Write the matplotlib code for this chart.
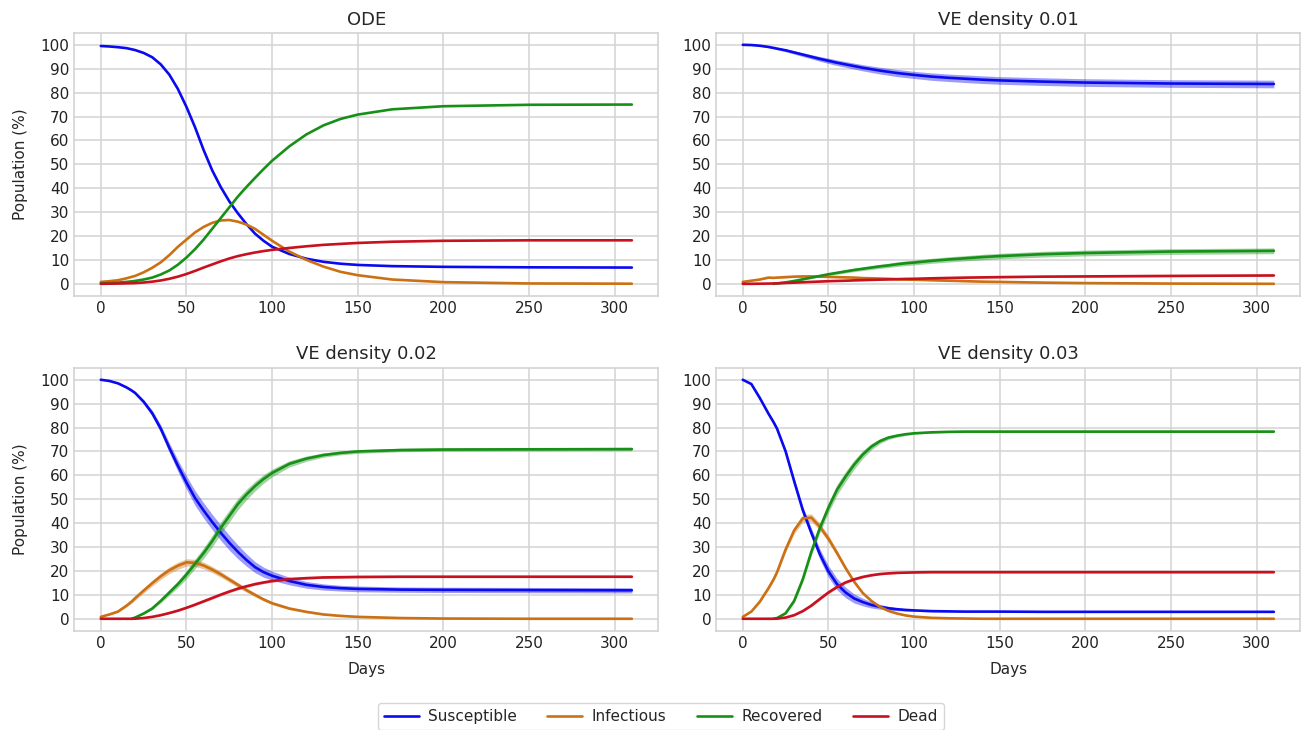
import matplotlib
matplotlib.use('Agg')
from matplotlib import pyplot as plt
import numpy as np

plt.style.use('seaborn-v0_8-whitegrid')
plt.rcParams['font.family'] = ['DejaVu Sans']

nan = np.nan

# ---- data (population %) ----
labels = ['Susceptible', 'Infectious', 'Recovered', 'Dead']
colors = ['#0a0af0', '#cc7014', '#169016', '#c8101e']

# ODE solution
days_ode = [0, 5, 10, 15, 20, 25, 30, 35, 40, 45, 50, 55, 60, 65, 70, 75, 80, 85, 90,
            95, 100, 110, 120, 130, 140, 150, 170, 200, 250, 310]
ode_s = [99.5, 99.3, 99.0, 98.6, 97.8, 96.6, 94.8, 91.8, 87.5, 81.5, 74.0, 65.5, 56.0,
         47.5, 40.5, 34.5, 29.5, 25.0, 21.0, 18.0, 15.5, 12.5, 10.5, 9.2, 8.4, 7.9,
         7.4, 7.1, 6.9, 6.8]
ode_i = [0.8, 1.1, 1.5, 2.3, 3.3, 4.8, 6.7, 9.0, 12.0, 15.5, 18.5, 21.5, 23.8, 25.5,
         26.5, 26.7, 26.0, 24.8, 23.0, 20.5, 18.0, 13.5, 10.0, 7.2, 5.0, 3.6, 1.8,
         0.7, 0.15, 0.05]
ode_r = [0.2, 0.3, 0.5, 0.8, 1.2, 1.8, 2.6, 3.9, 5.6, 8.0, 11.0, 14.5, 18.5, 23.0,
         27.5, 32.0, 36.5, 40.5, 44.3, 48.0, 51.5, 57.5, 62.5, 66.3, 69.0, 70.8, 73.0,
         74.3, 74.9, 75.0]
ode_d = [0.0, 0.05, 0.1, 0.2, 0.3, 0.55, 0.9, 1.4, 2.1, 3.0, 4.1, 5.4, 6.8, 8.1, 9.4,
         10.6, 11.6, 12.4, 13.1, 13.7, 14.2, 15.0, 15.7, 16.3, 16.7, 17.1, 17.6, 18.0,
         18.2, 18.2]

# simulations (mean and spread)
days_ve = [0, 5, 10, 15, 18, 20, 25, 30, 35, 40, 45, 50, 55, 60, 65, 70, 75, 80, 85,
           90, 95, 100, 110, 120, 130, 140, 150, 175, 200, 250, 310]

# VE density 0.01
ve1_s = [100, 99.9, 99.6, 99.1, 98.7, 98.4, 97.7, 96.8, 95.9, 95.0, 94.1, 93.3, 92.5,
         91.8, 91.1, 90.4, 89.8, 89.2, 88.7, 88.2, 87.8, 87.4, 86.7, 86.2, 85.8, 85.4,
         85.1, 84.6, 84.2, 83.8, 83.6]
ve1_i = [0.8, 1.3, 1.8, 2.6, 2.5, 2.6, 2.8, 3.0, 3.1, 3.1, 3.0, 2.9, 2.8, 2.7, 2.6,
         2.4, 2.3, 2.2, 2.1, 1.9, 1.8, 1.7, 1.5, 1.3, 1.1, 0.9, 0.8, 0.5, 0.3, 0.1, 0.0]
ve1_r = [nan, nan, nan, nan, 0.0, 0.15, 0.6, 1.2, 1.9, 2.6, 3.3, 4.0, 4.6, 5.2, 5.8,
         6.3, 6.8, 7.3, 7.7, 8.2, 8.6, 8.9, 9.6, 10.2, 10.7, 11.2, 11.6, 12.4, 12.9,
         13.5, 13.8]
ve1_d = [0, 0, 0.05, 0.1, 0.15, 0.2, 0.35, 0.5, 0.65, 0.8, 0.95, 1.1, 1.2, 1.3, 1.45,
         1.55, 1.65, 1.75, 1.85, 1.95, 2.05, 2.1, 2.3, 2.45, 2.6, 2.7, 2.8, 3.0, 3.1,
         3.3, 3.5]
ve1_s_sd = [0, 0.1, 0.2, 0.3, 0.4, 0.45, 0.6, 0.7, 0.8, 0.9, 1.0, 1.1, 1.15, 1.2,
            1.25, 1.3, 1.35, 1.4, 1.45, 1.5, 1.5, 1.5, 1.55, 1.55, 1.6, 1.6, 1.6, 1.6,
            1.6, 1.6, 1.6]
ve1_i_sd = [0, 0.1, 0.15, 0.2, 0.25, 0.25, 0.3, 0.3, 0.3, 0.3, 0.3, 0.3, 0.3, 0.3,
            0.3, 0.3, 0.3, 0.3, 0.25, 0.25, 0.25, 0.25, 0.2, 0.2, 0.2, 0.15, 0.15,
            0.1, 0.1, 0.05, 0.0]
ve1_r_sd = [0, 0, 0, 0, 0, 0.05, 0.15, 0.2, 0.3, 0.4, 0.45, 0.5, 0.6, 0.65, 0.7,
            0.75, 0.8, 0.85, 0.9, 0.95, 1.0, 1.0, 1.05, 1.1, 1.1, 1.15, 1.15, 1.2,
            1.2, 1.2, 1.2]
ve1_d_sd = [0, 0, 0.02, 0.05, 0.05, 0.05, 0.08, 0.1, 0.12, 0.15, 0.15, 0.18, 0.2,
            0.2, 0.2, 0.22, 0.22, 0.25, 0.25, 0.25, 0.25, 0.25, 0.28, 0.28, 0.3, 0.3,
            0.3, 0.3, 0.3, 0.3, 0.3]

# VE density 0.02
ve2_s = [100, 99.5, 98.5, 96.8, 95.5, 94.5, 90.8, 86.0, 79.5, 71.5, 64.0, 57.0, 50.5,
         45.3, 40.5, 36.0, 31.8, 28.0, 24.6, 21.6, 19.5, 18.0, 15.8, 14.2, 13.3, 12.8,
         12.5, 12.2, 12.1, 12.0, 11.9]
ve2_i = [0.8, 1.8, 3.0, 5.5, 7.2, 8.6, 11.8, 14.9, 17.8, 20.3, 22.2, 23.6, 23.4, 22.3,
         20.6, 18.6, 16.4, 14.2, 12.0, 10.0, 8.1, 6.5, 4.3, 2.9, 1.8, 1.2, 0.8, 0.3,
         0.1, 0.0, 0.0]
ve2_r = [nan, nan, nan, nan, 0.0, 0.5, 2.2, 4.3, 7.5, 11.0, 14.5, 18.5, 23.0, 27.5,
         32.5, 38.0, 43.0, 48.0, 52.0, 55.5, 58.5, 61.0, 64.8, 67.0, 68.5, 69.4, 70.0,
         70.6, 70.8, 70.9, 71.0]
ve2_d = [0, 0, 0, 0, 0, 0.05, 0.3, 0.8, 1.5, 2.4, 3.4, 4.6, 5.9, 7.3, 8.7, 10.1, 11.4,
         12.6, 13.6, 14.5, 15.2, 15.8, 16.6, 17.0, 17.3, 17.4, 17.5, 17.6, 17.6, 17.6,
         17.6]
ve2_s_sd = [0, 0.1, 0.2, 0.3, 0.4, 0.5, 0.8, 1.2, 1.6, 2.0, 2.4, 2.8, 3.1, 3.2, 3.2,
            3.2, 3.1, 2.9, 2.6, 2.3, 2.1, 1.9, 1.6, 1.4, 1.3, 1.2, 1.2, 1.1, 1.1, 1.1,
            1.1]
ve2_i_sd = [0, 0.2, 0.4, 0.6, 0.7, 0.8, 1.0, 1.2, 1.3, 1.4, 1.5, 1.5, 1.5, 1.4, 1.3,
            1.2, 1.1, 1.0, 0.9, 0.8, 0.7, 0.6, 0.5, 0.4, 0.3, 0.2, 0.2, 0.1, 0.1, 0.0,
            0.0]
ve2_r_sd = [0, 0, 0, 0, 0, 0.1, 0.3, 0.5, 0.8, 1.1, 1.4, 1.7, 2.0, 2.2, 2.4, 2.5, 2.5,
            2.4, 2.2, 2.0, 1.8, 1.6, 1.3, 1.1, 0.9, 0.8, 0.8, 0.7, 0.7, 0.7, 0.7]
ve2_d_sd = [0, 0, 0, 0, 0, 0.02, 0.1, 0.15, 0.2, 0.25, 0.3, 0.35, 0.4, 0.45, 0.5, 0.5,
            0.5, 0.5, 0.5, 0.5, 0.5, 0.5, 0.45, 0.45, 0.4, 0.4, 0.4, 0.4, 0.4, 0.4, 0.4]

# VE density 0.03
ve3_s = [100, 98.2, 92.3, 85.8, 82.2, 79.5, 70.0, 57.5, 45.5, 36.0, 27.0, 19.8, 14.5,
         11.0, 8.5, 7.0, 5.8, 5.0, 4.4, 4.0, 3.7, 3.5, 3.2, 3.1, 3.0, 3.0, 3.0, 2.9,
         2.9, 2.9, 2.9]
ve3_i = [0.8, 3.0, 7.2, 12.8, 16.5, 19.5, 29.0, 37.0, 42.0, 42.3, 38.5, 33.5, 27.5,
         21.2, 15.5, 10.8, 7.5, 5.0, 3.3, 2.2, 1.4, 0.9, 0.4, 0.2, 0.1, 0.0, 0.0, 0.0,
         0.0, 0.0, 0.0]
ve3_r = [nan, nan, nan, nan, 0.0, 0.3, 2.3, 7.5, 16.5, 28.0, 38.0, 46.5, 54.0, 59.5,
         64.5, 68.7, 72.0, 74.3, 75.8, 76.6, 77.2, 77.6, 78.0, 78.2, 78.3, 78.3, 78.3,
         78.3, 78.3, 78.3, 78.3]
ve3_d = [0, 0, 0, 0, 0, 0.05, 0.5, 1.5, 3.2, 5.5, 8.3, 11.0, 13.3, 15.2, 16.5, 17.5,
         18.2, 18.7, 19.0, 19.2, 19.3, 19.4, 19.5, 19.5, 19.5, 19.5, 19.5, 19.5, 19.5,
         19.5, 19.5]
ve3_s_sd = [0, 0.2, 0.4, 0.6, 0.7, 0.8, 1.0, 1.3, 1.6, 1.9, 2.2, 2.4, 2.4, 2.2, 1.9,
            1.6, 1.3, 1.0, 0.8, 0.6, 0.5, 0.4, 0.3, 0.3, 0.3, 0.3, 0.3, 0.3, 0.3, 0.3,
            0.3]
ve3_i_sd = [0, 0.2, 0.4, 0.6, 0.7, 0.8, 1.1, 1.4, 1.6, 1.6, 1.5, 1.4, 1.2, 1.0, 0.8,
            0.6, 0.5, 0.4, 0.3, 0.2, 0.2, 0.1, 0.1, 0.0, 0.0, 0.0, 0.0, 0.0, 0.0, 0.0,
            0.0]
ve3_r_sd = [0, 0, 0, 0, 0, 0.1, 0.4, 0.8, 1.2, 1.6, 1.9, 2.1, 2.2, 2.1, 1.9, 1.6, 1.3,
            1.0, 0.8, 0.6, 0.5, 0.4, 0.3, 0.3, 0.3, 0.3, 0.3, 0.3, 0.3, 0.3, 0.3]
ve3_d_sd = [0, 0, 0, 0, 0, 0.02, 0.1, 0.2, 0.3, 0.4, 0.5, 0.5, 0.5, 0.5, 0.45, 0.4,
            0.35, 0.3, 0.3, 0.3, 0.3, 0.3, 0.3, 0.3, 0.3, 0.3, 0.3, 0.3, 0.3, 0.3, 0.3]

panels = [
    ('ODE', days_ode, [ode_s, ode_i, ode_r, ode_d], None),
    ('VE density 0.01', days_ve, [ve1_s, ve1_i, ve1_r, ve1_d],
     [ve1_s_sd, ve1_i_sd, ve1_r_sd, ve1_d_sd]),
    ('VE density 0.02', days_ve, [ve2_s, ve2_i, ve2_r, ve2_d],
     [ve2_s_sd, ve2_i_sd, ve2_r_sd, ve2_d_sd]),
    ('VE density 0.03', days_ve, [ve3_s, ve3_i, ve3_r, ve3_d],
     [ve3_s_sd, ve3_i_sd, ve3_r_sd, ve3_d_sd]),
]

fig, axes = plt.subplots(2, 2, figsize=(13.03, 7.30), dpi=100)
fig.subplots_adjust(left=0.057, right=0.998, top=0.955, bottom=0.136,
                    wspace=0.099, hspace=0.274)

handles = []
for n, (ax, (title, days, series, spreads)) in enumerate(zip(axes.flat, panels)):
    x = np.array(days, dtype=float)
    for k in range(4):
        y = np.array(series[k], dtype=float)
        if spreads is not None:
            sd = np.array(spreads[k], dtype=float)
            ax.fill_between(x, y - sd, y + sd, color=colors[k], alpha=0.4, lw=0)
        line, = ax.plot(x, y, color=colors[k], lw=1.9, label=labels[k],
                        solid_joinstyle='round')
        if n == 0:
            handles.append(line)
    ax.set_title(title, fontsize=13)
    ax.set_xticks(range(0, 301, 50))
    ax.set_yticks(range(0, 101, 10))
    ax.set_ylim(-5, 105)
    ax.tick_params(labelsize=11, colors='#222222')
    ax.grid(color='#d3d3d3', lw=1.1)
    for sp in ax.spines.values():
        sp.set_color('#d3d3d3')
        sp.set_linewidth(1.2)
    if n % 2 == 0:
        ax.set_ylabel('Population (%)', fontsize=11, labelpad=9)
    if n >= 2:
        ax.set_xlabel('Days', fontsize=11, labelpad=8)

leg = fig.legend(handles, labels, loc='center', bbox_to_anchor=(0.507, 0.018),
                 ncol=4, fontsize=11, frameon=True, handlelength=2.3,
                 handletextpad=0.6, columnspacing=2.0, fancybox=True)
leg.get_frame().set_edgecolor('#cccccc')

plt.savefig('out.png', dpi=100)
